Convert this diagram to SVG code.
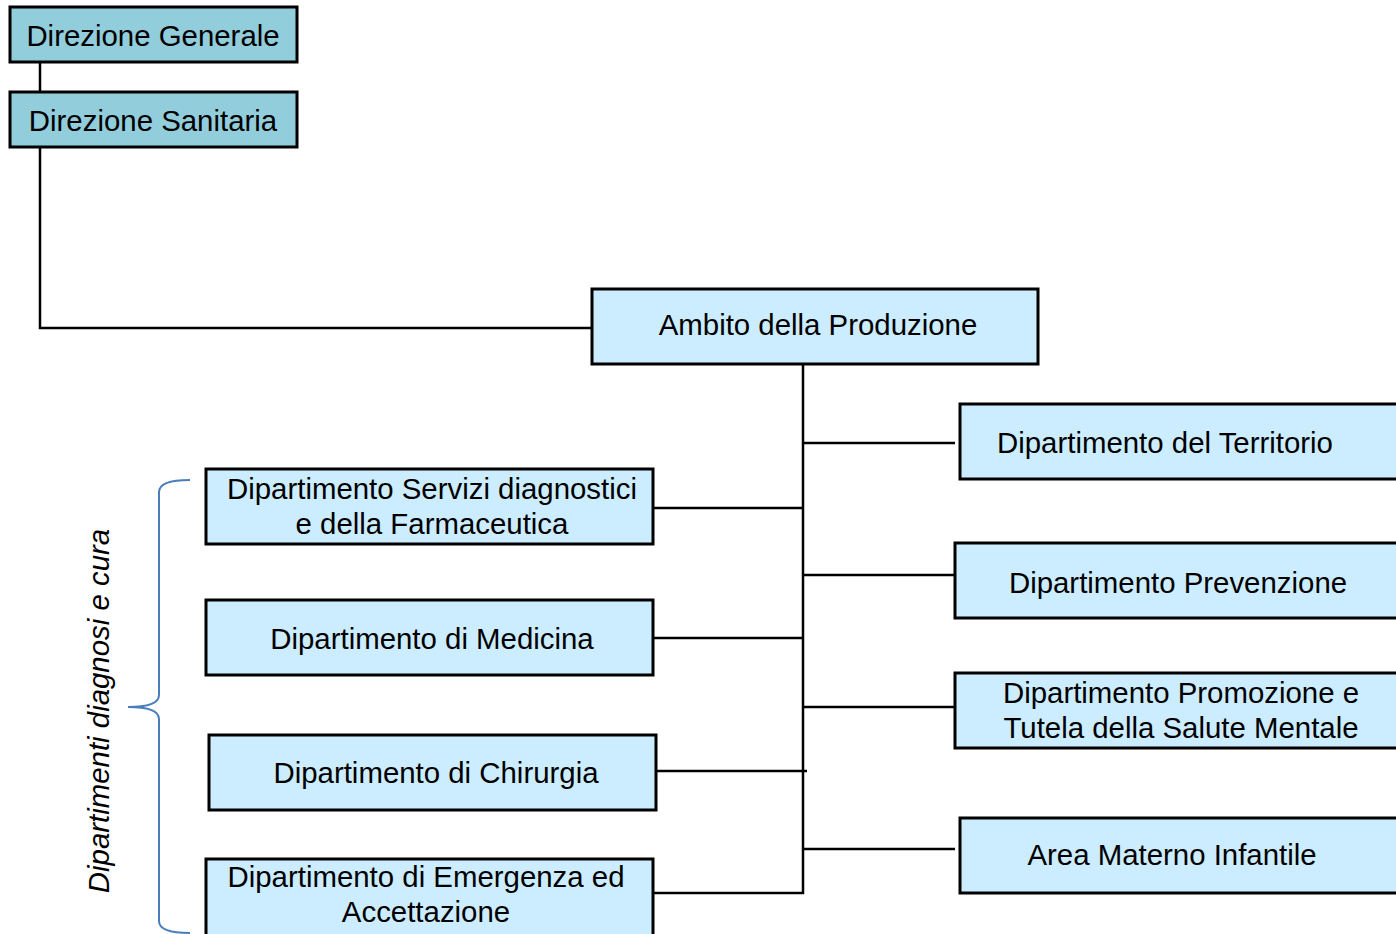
<svg xmlns="http://www.w3.org/2000/svg" width="1396" height="934" viewBox="0 0 1396 934">
<style>
.box{fill:#CCECFF;stroke:#000;stroke-width:3}
.top{fill:#92CDDC;stroke:#000;stroke-width:3}
.t{font-family:"Liberation Sans",Arial,sans-serif;font-size:29.4px;fill:#000;text-anchor:middle}
.c{fill:none;stroke:#000;stroke-width:2.5}
.brace{fill:none;stroke:#4A7EBB;stroke-width:2}
</style>
<rect width="1396" height="934" fill="#fff"/>
<g id="connectors">
<line class="c" x1="40" y1="62" x2="40" y2="92"/>
<polyline class="c" points="40,147 40,328 591,328"/>
<line class="c" x1="803" y1="364" x2="803" y2="894"/>
<line class="c" x1="803" y1="443" x2="955" y2="443"/>
<line class="c" x1="803" y1="575" x2="955" y2="575"/>
<line class="c" x1="803" y1="707" x2="955" y2="707"/>
<line class="c" x1="803" y1="849" x2="955" y2="849"/>
<line class="c" x1="653" y1="508" x2="803" y2="508"/>
<line class="c" x1="653" y1="638" x2="803" y2="638"/>
<line class="c" x1="656" y1="771" x2="807" y2="771"/>
<line class="c" x1="653" y1="893" x2="804" y2="893"/>
</g>
<g id="direzione-generale">
<rect class="top" x="10" y="7" width="287" height="55"/>
<text class="t" x="153" y="46">Direzione Generale</text>
</g>
<g id="direzione-sanitaria">
<rect class="top" x="10" y="92" width="287" height="55"/>
<text class="t" x="153" y="131">Direzione Sanitaria</text>
</g>
<g id="ambito">
<rect class="box" x="592" y="289" width="446" height="75"/>
<text class="t" x="818" y="335">Ambito della Produzione</text>
</g>
<g id="territorio">
<rect class="box" x="960" y="404" width="450" height="75"/>
<text class="t" x="1165" y="453">Dipartimento del Territorio</text>
</g>
<g id="prevenzione">
<rect class="box" x="955" y="543" width="455" height="75"/>
<text class="t" x="1178" y="593">Dipartimento Prevenzione</text>
</g>
<g id="salute-mentale">
<rect class="box" x="955" y="673" width="455" height="75"/>
<text class="t" x="1181" y="703">Dipartimento Promozione e</text>
<text class="t" x="1181" y="738">Tutela della Salute Mentale</text>
</g>
<g id="materno-infantile">
<rect class="box" x="960" y="818" width="450" height="75"/>
<text class="t" x="1172" y="865">Area Materno Infantile</text>
</g>
<g id="servizi-diagnostici">
<rect class="box" x="206" y="469" width="447" height="75"/>
<text class="t" x="432" y="499">Dipartimento Servizi diagnostici</text>
<text class="t" x="432" y="534">e della Farmaceutica</text>
</g>
<g id="medicina">
<rect class="box" x="206" y="600" width="447" height="75"/>
<text class="t" x="432" y="649">Dipartimento di Medicina</text>
</g>
<g id="chirurgia">
<rect class="box" x="209" y="735" width="447" height="75"/>
<text class="t" x="436" y="783">Dipartimento di Chirurgia</text>
</g>
<g id="emergenza">
<rect class="box" x="206" y="859" width="447" height="90"/>
<text class="t" x="426" y="887">Dipartimento di Emergenza ed</text>
<text class="t" x="426" y="922">Accettazione</text>
</g>
<g id="gruppo-diagnosi-cura">
<path class="brace" d="M190,480 Q159,480 159,492 L159,695 Q159,707 128,707 Q159,707 159,719 L159,921 Q159,933 190,933"/>
<text class="t" x="109" y="711" font-style="italic" transform="rotate(-90 109 711)">Dipartimenti diagnosi e cura</text>
</g>
</svg>
